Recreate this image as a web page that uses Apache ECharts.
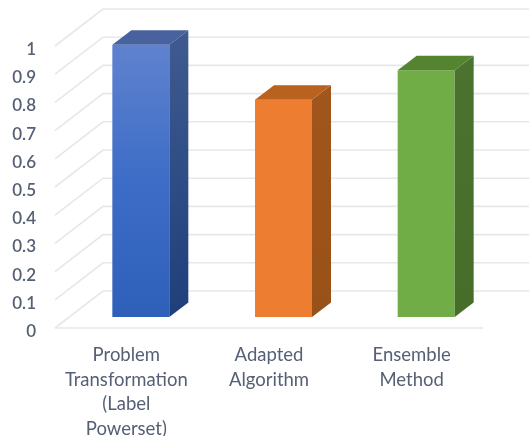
<!DOCTYPE html>
<html>
<head>
<meta charset="utf-8">
<style>html,body{margin:0;padding:0;background:#fff}#chart{width:529px;height:436px}</style>
<script src="https://cdn.jsdelivr.net/npm/echarts@6/dist/echarts.min.js"></script>
</head>
<body>
<div id="chart"></div>
<script>
// Chart content
const categories = ['Problem\nTransformation\n(Label\nPowerset)', 'Adapted\nAlgorithm', 'Ensemble\nMethod'];
const scores = [0.965, 0.77, 0.875];
const yTicks = [0, 0.1, 0.2, 0.3, 0.4, 0.5, 0.6, 0.7, 0.8, 0.9, 1];

// Bar faces: front gradient stops, side gradient stops, top
const frontColors = [['#5f82cf', '#3d6dc6', '#2f60b9'], ['#ed7d31', '#ed7d31', '#ed7d31'], ['#70ad47', '#70ad47', '#70ad47']];
const sideColors = [['#3f5b90', '#1f3f7b'], ['#a0561c', '#985118'], ['#4c7230', '#476d29']];
const topColors = ['#48629f', '#b9611f', '#558431'];

// Oblique projection used for the pseudo-3D floor and walls
const wallDx = 48, wallDy = -37;
const barDx = 14.5, barDy = -11;
const depthDx = 19, depthDy = -14.5;
const barWidth = 57;
const gridColor = '#e5e7ea';
const textColor = '#566074';

const linear = (stops) => ({
  type: 'linear', x: 0, y: 0, x2: 0, y2: 1,
  colorStops: stops.map((c, i) => ({ offset: i / (stops.length - 1), color: c }))
});

// Back wall and left wall rule for one tick; the zero tick also gets the front floor edge
function renderRule(params, api) {
  const left = params.coordSys.x;
  const width = params.coordSys.width;
  const y = api.coord([0, api.value(1)])[1];
  const line = (points) => ({
    type: 'polyline',
    shape: { points },
    style: { fill: null, stroke: gridColor, lineWidth: 1.6 }
  });
  const children = [line([
    [left, y],
    [left + wallDx, y + wallDy],
    [left + wallDx + width, y + wallDy]
  ])];
  if (api.value(1) === 0) {
    children.push(line([[left, y], [left + width, y]]));
  }
  return { type: 'group', children };
}

// One extruded bar: front, side and top faces
function renderBar(params, api) {
  const i = api.value(0);
  const top = api.coord([i, api.value(1)]);
  const base = api.coord([i, 0]);
  const x0 = top[0] + barDx - barWidth / 2;
  const x1 = x0 + barWidth;
  const yT = top[1] + barDy;
  const yB = base[1] + barDy;
  const poly = (points, fill) => ({ type: 'polygon', shape: { points }, style: { fill } });
  return {
    type: 'group',
    children: [
      poly([[x0, yT], [x1, yT], [x1, yB], [x0, yB]], linear(frontColors[i])),
      poly([[x1, yT], [x1 + depthDx, yT + depthDy], [x1 + depthDx, yB + depthDy], [x1, yB]], linear(sideColors[i])),
      poly([[x0, yT], [x0 + depthDx, yT + depthDy], [x1 + depthDx, yT + depthDy], [x1, yT]], topColors[i])
    ]
  };
}

const chart = echarts.init(document.getElementById('chart'), null, { renderer: 'canvas' });
chart.setOption({
  animation: false,
  backgroundColor: '#ffffff',
  grid: { left: 55, right: 46, top: 46, bottom: 108, outerBoundsMode: 'none' },
  xAxis: {
    type: 'category',
    data: categories,
    axisLine: { show: false },
    axisTick: { show: false },
    axisLabel: {
      interval: 0,
      margin: 15,
      color: textColor,
      fontFamily: 'Lato',
      fontSize: 18.5,
      lineHeight: 24.5,
      verticalAlign: 'top'
    }
  },
  yAxis: {
    type: 'value',
    min: 0,
    max: 1,
    interval: 0.1,
    axisLine: { show: false },
    axisTick: { show: false },
    splitLine: { show: false },
    axisLabel: {
      margin: 19,
      verticalAlign: 'top',
      lineHeight: 7,
      color: textColor,
      fontFamily: 'Lato',
      fontSize: 17,
      fontWeight: 600
    }
  },
  series: [
    {
      type: 'custom',
      clip: false,
      silent: true,
      z: 1,
      renderItem: renderRule,
      data: yTicks.map((t) => [0, t])
    },
    {
      type: 'custom',
      clip: false,
      z: 2,
      renderItem: renderBar,
      data: scores.map((v, i) => [i, v])
    }
  ]
});
</script>
</body>
</html>
